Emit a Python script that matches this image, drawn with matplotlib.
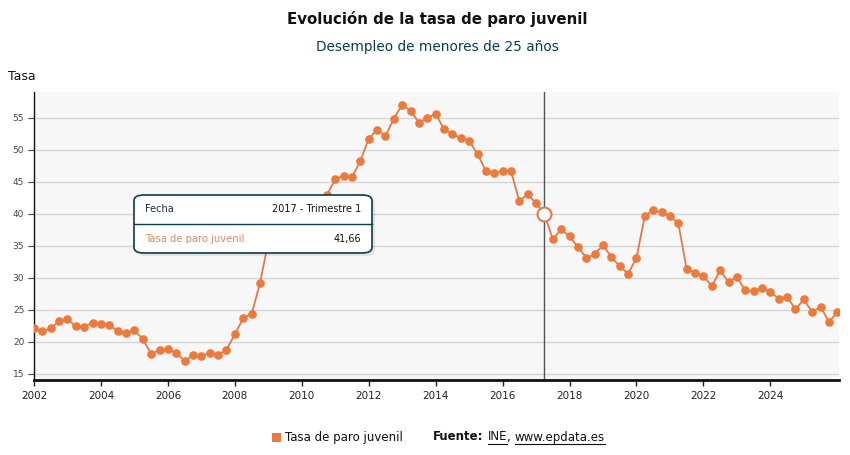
import numpy as np
import matplotlib
matplotlib.use("Agg")
import matplotlib.pyplot as plt
from matplotlib.patches import FancyBboxPatch, Rectangle
from matplotlib.lines import Line2D

# tasa de paro juvenil (menores de 25), trimestral desde 2002 T1
valores = [22.1, 21.6, 22.1, 23.2, 23.5, 22.4, 22.3, 23.0, 22.7, 22.55,
           21.7, 21.35, 21.8, 20.4, 18.1, 18.7, 18.8, 18.3, 17.0, 17.9,
           17.8, 18.2, 17.9, 18.75, 21.15, 23.7, 24.3, 29.1, 35.6, 36.9,
           38.3, 39.6, 40.9, 41.9, 42.0, 42.9, 45.4, 45.9, 45.7, 48.2,
           51.7, 53.1, 52.1, 54.85, 57.0, 56.1, 54.2, 54.95, 55.6, 53.2,
           52.45, 51.8, 51.4, 49.3, 46.7, 46.35, 46.6, 46.6, 42.0, 43.0,
           41.66, 39.9, 36.0, 37.55, 36.45, 34.8, 33.1, 33.65, 35.1, 33.2,
           31.8, 30.6, 33.1, 39.7, 40.5, 40.2, 39.6, 38.5, 31.3, 30.8,
           30.3, 28.65, 31.15, 29.3, 30.1, 28.0, 27.9, 28.4, 27.8, 26.7,
           27.0, 25.05, 26.6, 24.6, 25.5, 23.1, 24.6]
anio_inicio = 2002
x_ticks = [2002, 2004, 2006, 2008, 2010, 2012, 2014, 2016, 2018, 2020, 2022, 2024]
y_ticks = [15, 20, 25, 30, 35, 40, 45, 50, 55]
idx_hover = 61
tooltip_fecha = "2017 - Trimestre 1"
tooltip_valor = "41,66"

naranja = "#ec7a3c"
W, H = 850, 455

def fx(px):
    return px / W

def fy(py):
    return 1 - py / H

x = anio_inicio + np.arange(len(valores)) / 4

fig = plt.figure(figsize=(8.5, 4.55), dpi=100)
ax = fig.add_axes([fx(34), fy(379.5), fx(839) - fx(34), fy(92) - fy(379.5)])
ax.set_facecolor("#f7f7f7")

ax.plot(x, valores, color="#e07a48", lw=1.3, marker="o", ms=5.2,
        mfc=naranja, mec=naranja, zorder=3)
ax.axvline(x[idx_hover], color="#555555", lw=1, zorder=2)
ax.plot(x[idx_hover], valores[idx_hover], "o", ms=10, mfc="white",
        mec="#e07a48", mew=1.5, zorder=4)

ax.set_xlim(2002, 2026.05)
ax.set_ylim(14.1, 59)
ax.set_xticks(x_ticks)
ax.set_yticks(y_ticks)
ax.tick_params(axis="y", labelsize=6.5, colors="#444444", length=4, width=0.8, pad=3)
ax.tick_params(axis="x", labelsize=7.5, colors="#222222", length=4, width=1, pad=4)
ax.grid(axis="y", color="#d6d6d6", lw=1)
ax.set_axisbelow(True)
for s in ["top", "right"]:
    ax.spines[s].set_visible(False)
ax.spines["left"].set_color("#111111")
ax.spines["left"].set_linewidth(1)
ax.spines["bottom"].set_color("#111111")
ax.spines["bottom"].set_linewidth(2)

# titulos
fig.text(fx(437), fy(19), "Evolución de la tasa de paro juvenil", ha="center",
         va="center", fontsize=10.8, fontweight="bold", color="#111111")
fig.text(fx(437), fy(47), "Desempleo de menores de 25 años", ha="center",
         va="center", fontsize=9.8, color="#0b3b4f")
fig.text(fx(8), fy(76), "Tasa", ha="left", va="center", fontsize=9,
         color="#111111")

# tooltip
sombra = FancyBboxPatch((fx(137), fy(256)), fx(372) - fx(134), fy(195) - fy(253),
                        boxstyle="round,pad=0,rounding_size=0.012",
                        transform=fig.transFigure, fc="#000000", alpha=0.08,
                        ec="none", zorder=9)
caja = FancyBboxPatch((fx(134), fy(253)), fx(372) - fx(134), fy(195) - fy(253),
                      boxstyle="round,pad=0,rounding_size=0.012",
                      transform=fig.transFigure, fc="white", ec="#0b3b4f",
                      lw=1.2, zorder=10)
fig.patches.extend([sombra, caja])
fig.lines.append(Line2D([fx(134), fx(372)], [fy(224), fy(224)],
                        transform=fig.transFigure, color="#0b3b4f", lw=1, zorder=11))
fig.text(fx(145), fy(209), "Fecha", ha="left", va="center", fontsize=7,
         color="#1b2a38", zorder=12)
fig.text(fx(361), fy(209), tooltip_fecha, ha="right", va="center", fontsize=7,
         color="#111111", zorder=12)
fig.text(fx(145), fy(239), "Tasa de paro juvenil", ha="left", va="center",
         fontsize=7.2, color="#d98a68", zorder=12)
fig.text(fx(361), fy(239), tooltip_valor, ha="right", va="center", fontsize=7,
         color="#111111", zorder=12)

# leyenda y fuente
fig.patches.append(Rectangle((fx(272), fy(442)), fx(9), fy(431) - fy(440),
                             transform=fig.transFigure, fc=naranja, ec="none"))
fig.text(fx(285), fy(437), "Tasa de paro juvenil", ha="left", va="center",
         fontsize=8.5, color="#111111")
t1 = fig.text(fx(433), fy(437), "Fuente:", ha="left", va="center",
              fontsize=8.5, fontweight="bold", color="#111111")
fig.canvas.draw()
r = fig.canvas.get_renderer()
bb = t1.get_window_extent(r)
t2 = fig.text(bb.x1 / W + fx(4), fy(437), "INE", ha="left", va="center",
              fontsize=8.5, color="#111111")
bb2 = t2.get_window_extent(r)
t3 = fig.text(bb2.x1 / W, fy(437), ", ", ha="left", va="center",
              fontsize=8.5, color="#111111")
bb3 = t3.get_window_extent(r)
t4 = fig.text(bb3.x1 / W, fy(437), "www.epdata.es", ha="left", va="center",
              fontsize=8.5, color="#111111")
bb4 = t4.get_window_extent(r)
for b in [bb2, bb4]:
    fig.lines.append(Line2D([b.x0 / W, b.x1 / W], [fy(443.5), fy(443.5)],
                            transform=fig.transFigure, color="#111111", lw=0.8))

fig.savefig("out.png", dpi=100)
